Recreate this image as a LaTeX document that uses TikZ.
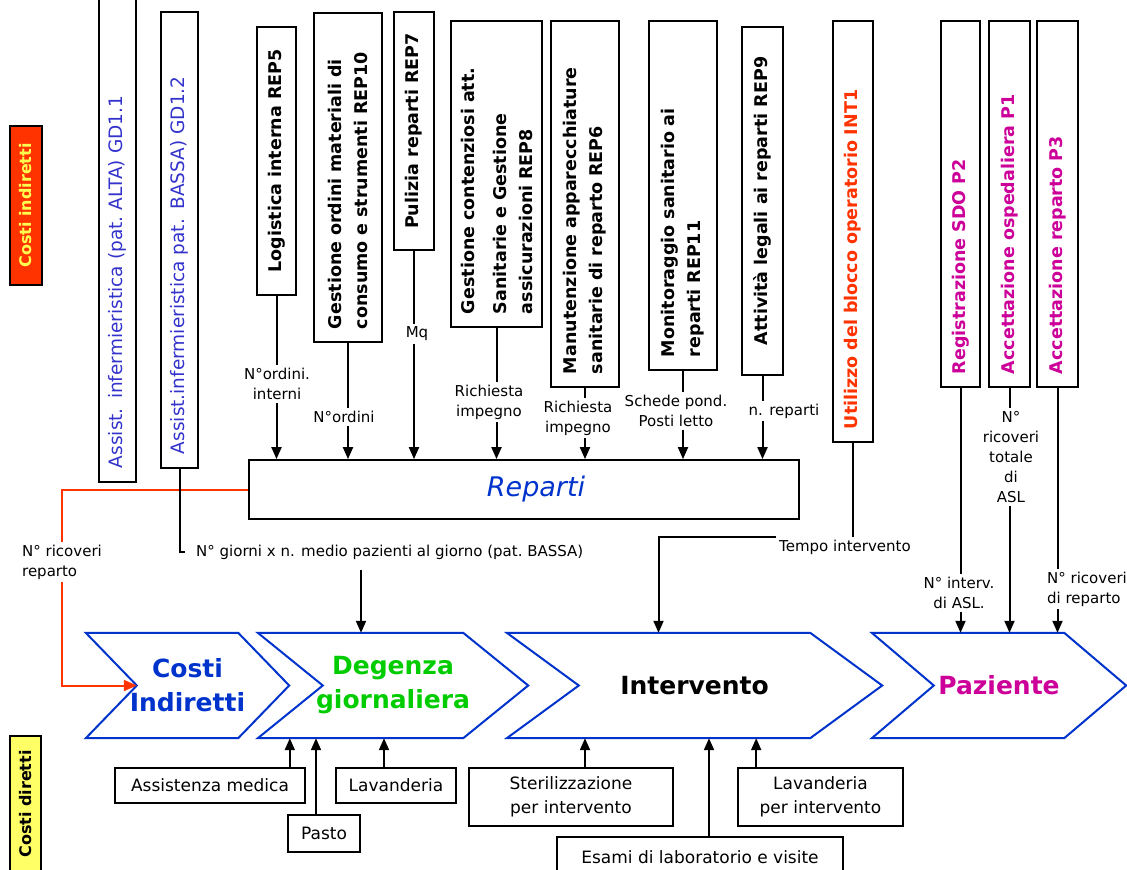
\documentclass[tikz,border=0pt]{standalone}
\usepackage{fontspec}
\setmainfont{DejaVu Sans}
\usetikzlibrary{arrows.meta,positioning,calc}

\definecolor{indcolor}{RGB}{255,51,0}
\definecolor{dircolor}{RGB}{255,255,102}
\definecolor{labelyellow}{RGB}{255,255,80}
\definecolor{gdcolor}{RGB}{51,51,204}
\definecolor{chevcolor}{RGB}{0,51,204}
\definecolor{degcolor}{RGB}{0,204,0}
\definecolor{pazcolor}{RGB}{204,0,153}

\tikzset{
sidebox/.style={
  draw,
  line width=1.8pt,
  rotate=90,
  inner sep=2pt,
  font=\fontsize{16}{19}\selectfont\bfseries
},
vbox/.style={
  draw,
  line width=1.8pt,
  rotate=90,
  align=left,
  inner xsep=13pt,
  inner ysep=2pt,
  font=\fontsize{17.5}{26}\selectfont\bfseries
},
gdbox/.style={
  vbox,
  inner xsep=14pt,
  font=\fontsize{18.5}{22}\selectfont,
  text=gdcolor
},
pbox/.style={
  vbox,
  text=pazcolor
},
repbox/.style={
  draw,
  line width=1.8pt,
  font=\fontsize{27}{32}\selectfont\itshape,
  text=chevcolor
},
chevbox/.style={
  inner sep=0pt,
  align=center,
  minimum height=105pt,
  font=\fontsize{25}{34}\selectfont\bfseries
},
chevline/.style={
  draw=chevcolor,
  line width=2pt
},
dirbox/.style={
  draw,
  line width=1.6pt,
  align=center,
  inner sep=3pt,
  font=\fontsize{17}{24}\selectfont
},
conlabel/.style={
  align=center,
  inner sep=3pt,
  font=\fontsize{15}{20}\selectfont
},
link/.style={
  line width=2pt
},
arrow/.style={
  link,
  -{Triangle[length=12pt,width=10pt]}
},
redarrow/.style={
  link,
  draw=indcolor,
  -{Triangle[length=13pt,width=11pt]}
}
}

% contorno a freccia (chevron) attorno a un nodo
\newcommand{\drawchevron}[2]{%
  \draw[chevline] (#1.north west) -- ([xshift=-#2]#1.north east) -- (#1.east)
    -- ([xshift=-#2]#1.south east) -- (#1.south west) -- ([xshift=#2]#1.west) -- cycle;}

\begin{document}
\begin{tikzpicture}[x=1pt,y=-1pt]
\useasboundingbox (0,0) rectangle (1127,870);

% etichette laterali
\node[sidebox, fill=indcolor, text=labelyellow, minimum width=159pt, minimum height=32pt] (lblind) at (26,205.5) {Costi indiretti};
\node[sidebox, fill=dircolor, minimum width=136pt, minimum height=31pt] (lbldir) at (25.5,804) {Costi diretti};

% attivita' di supporto
\node[gdbox, text width=474pt, minimum height=37pt] (gd11) at (117.5,231) {Assist. infermieristica (pat.\ ALTA) GD1.1};
\node[gdbox, text width=428pt, minimum height=37pt] (gd12) at (179.5,240) {Assist.infermieristica pat. BASSA) GD1.2};
\node[vbox, minimum width=268pt, minimum height=39pt] (rep5) at (276.5,161) {Logistica interna REP5};
\node[vbox, text width=303pt, minimum height=68pt] (rep10) at (348,177.5) {Gestione ordini materiali di\\consumo e strumenti REP10};
\node[vbox, minimum width=238pt, minimum height=40pt] (rep7) at (414,131) {Pulizia reparti REP7};
\node[vbox, text width=280pt, minimum height=91pt] (rep8) at (496.5,174) {Gestione contenziosi att.\\[6pt]Sanitarie e Gestione\\assicurazioni REP8};
\node[vbox, text width=340pt, minimum height=68pt] (rep6) at (585,204) {Manutenzione apparecchiature\\sanitarie di reparto REP6};
\node[vbox, text width=323pt, minimum height=68pt] (rep11) at (683,195.5) {Monitoraggio sanitario ai\\reparti REP11};
\node[vbox, minimum width=348pt, minimum height=41pt] (rep9) at (762.5,201) {Attività legali ai reparti REP9};
\node[vbox, text width=395pt, minimum height=40pt, text=indcolor] (int1) at (853,231.5) {Utilizzo del blocco operatorio INT1};
\node[pbox, text width=340pt, minimum height=39pt] (p2) at (960.5,204) {Registrazione SDO P2};
\node[pbox, text width=340pt, minimum height=41pt] (p1) at (1009.5,204) {Accettazione ospedaliera P1};
\node[pbox, text width=340pt, minimum height=41pt] (p3) at (1057.5,204) {Accettazione reparto P3};

\node[repbox, minimum width=550pt, minimum height=59pt] (rep) at (524,489.5) {\hspace*{24pt}Reparti};

% driver di ribaltamento
\node[conlabel] (lnord) at (277,384) {N°ordini.\\interni};
\node[conlabel] (lnord2) at (344,417) {N°ordini};
\node[conlabel] (lmq) at (417,334) {Mq};
\node[conlabel] (lrich1) at (489,402) {Richiesta\\impegno};
\node[conlabel] (lrich2) at (578,418) {Richiesta\\impegno};
\node[conlabel] (lsched) at (676,411) {Schede pond.\\Posti letto};
\node[conlabel] (lnrep) at (784,411) {n. reparti};

\foreach \b/\l in {rep5/lnord, rep10/lnord2, rep7/lmq, rep8/lrich1, rep6/lrich2, rep11/lsched, rep9/lnrep}{
  \draw[link] (\b.west) -- (\b.west |- \l.north);
  \draw[arrow] (\b.west |- \l.south) -- (\b.west |- rep.north);
}

% fasi del percorso
\node[chevbox, text=chevcolor, minimum width=203pt] (cind) at (187.5,685.5) {Costi\\Indiretti};
\drawchevron{cind}{51pt}
\node[chevbox, text=degcolor, minimum width=270pt] (deg) at (393,685.5) {Degenza\\giornaliera};
\drawchevron{deg}{65pt}
\node[chevbox, minimum width=375pt] (intv) at (694.5,685.5) {Intervento};
\drawchevron{intv}{72pt}
\node[chevbox, text=pazcolor, minimum width=254pt] (paz) at (999,685.5) {Paziente};
\drawchevron{paz}{62pt}

\coordinate (degtop) at ($(deg.north)+(-32pt,0)$);
\coordinate (intvtop) at ($(intv.north)+(-36pt,0)$);

% ricoveri di reparto
\node[conlabel, align=left] (lric) at (62,562) {N° ricoveri\\reparto};
\draw[redarrow, -] (rep.west) -| (lric.north);
\draw[redarrow] (lric.south) |- ($(cind.west)+(51pt,0)$);

% giornate di degenza
\node[conlabel, anchor=west] (lgiorni) at (193,552) {N° giorni x n. medio pazienti al giorno (pat.\ BASSA)};
\draw[link] (gd12.west) |- ($(lgiorni.west)+(-8pt,0)$);
\draw[arrow] ($(degtop |- lgiorni.south)+(0,-8pt)$) -- (degtop);

% blocco operatorio
\node[conlabel] (ltempo) at (845,547) {Tempo intervento};
\draw[link] (int1.west) -- (int1.west |- ltempo.north);
\draw[arrow] (ltempo.north west) -| (intvtop);

% paziente
\node[conlabel] (lp2) at (959,593) {N° interv.\\di ASL.};
\node[conlabel] (lp1) at (1011,457) {N°\\ricoveri\\totale\\di\\ASL};
\node[conlabel, align=left] (lp3) at (1087,589) {N° ricoveri\\di reparto};
\foreach \b/\l in {p2/lp2, p1/lp1, p3/lp3}{
  \draw[link] (\b.west) -- (\b.west |- \l.north);
  \draw[arrow] (\b.west |- \l.south) -- (\b.west |- paz.north);
}

% costi diretti
\node[dirbox, minimum width=190pt, minimum height=35pt] (assmed) at (210,785.5) {Assistenza medica};
\node[dirbox, minimum width=72pt, minimum height=37pt] (pasto) at (324,833.5) {Pasto};
\node[dirbox, minimum width=120pt, minimum height=35pt] (lav) at (396,785.5) {Lavanderia};
\node[dirbox, minimum width=204pt, minimum height=58pt] (steril) at (571,797) {Sterilizzazione\\per intervento};
\node[dirbox, minimum width=165pt, minimum height=58pt] (lavint) at (820.5,797) {Lavanderia\\per intervento};
\node[dirbox, minimum width=286pt, minimum height=40pt] (esami) at (700,857) {Esami di laboratorio e visite};

\draw[arrow] ($(assmed.north east)+(-16pt,0)$) -- ($(assmed.north east |- deg.south)+(-16pt,0)$);
\draw[arrow] ($(pasto.north)+(-8pt,0)$) -- ($(pasto.north |- deg.south)+(-8pt,0)$);
\draw[arrow] ($(lav.north)+(-12pt,0)$) -- ($(lav.north |- deg.south)+(-12pt,0)$);
\draw[arrow] ($(steril.north)+(14pt,0)$) -- ($(steril.north |- intv.south)+(14pt,0)$);
\draw[arrow] ($(lavint.north west)+(19pt,0)$) -- ($(lavint.north west |- intv.south)+(19pt,0)$);
\draw[arrow] ($(esami.north)+(9pt,0)$) -- ($(esami.north |- intv.south)+(9pt,0)$);
\end{tikzpicture}
\end{document}
